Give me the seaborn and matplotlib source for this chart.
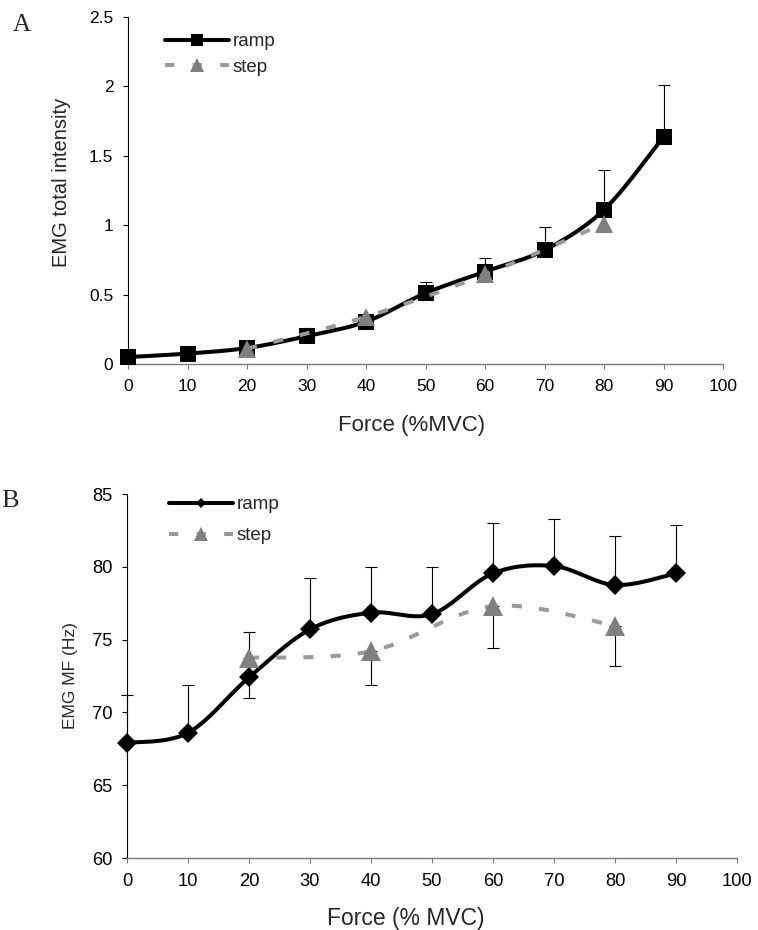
import numpy as np
import pandas as pd
import matplotlib
matplotlib.use("Agg")
import matplotlib.pyplot as plt
import seaborn as sns
from matplotlib.lines import Line2D

# ---------------- data ----------------
force = [0, 10, 20, 30, 40, 50, 60, 70, 80, 90]
step_force = [20, 40, 60, 80]

a_ramp = [0.05, 0.075, 0.115, 0.20, 0.305, 0.51, 0.665, 0.82, 1.11, 1.635]
a_ramp_err = [0.02, 0.02, 0.03, 0.06, 0.05, 0.08, 0.10, 0.165, 0.29, 0.375]
a_step = [0.11, 0.34, 0.645, 1.01]

b_ramp = [67.9, 68.6, 72.4, 75.7, 76.85, 76.75, 79.55, 80.05, 78.75, 79.55]
b_ramp_err = [3.3, 3.3, 3.15, 3.5, 3.15, 3.25, 3.45, 3.25, 3.35, 3.35]
b_step = [73.75, 74.2, 77.3, 75.95]
b_step_err = [2.75, 2.3, 2.85, 2.75]

x_ticks = [0, 10, 20, 30, 40, 50, 60, 70, 80, 90, 100]
a_yticks = [0, 0.5, 1, 1.5, 2, 2.5]
a_yticklabels = ["0", "0.5", "1", "1.5", "2", "2.5"]
b_yticks = [60, 65, 70, 75, 80, 85]

# ---------------- style ----------------
sns.set_theme(style="ticks")
plt.rcParams["font.family"] = ["Liberation Sans", "DejaVu Sans"]

DPI = 100
W, H = 758, 930
fig = plt.figure(figsize=(W / DPI, H / DPI), dpi=DPI)


def ax_rect(left, right, top, bottom):
    return [left / W, 1 - bottom / H, (right - left) / W, (bottom - top) / H]


axA = fig.add_axes(ax_rect(128, 723, 16.7, 364))
axB = fig.add_axes(ax_rect(127, 737, 494, 858))

GRAY_LINE = "#9a9a9a"
GRAY_MARK = "#808080"
LW = 2.9
DASH = (0, (2.5, 4.25))


def smooth(x, y, n=40):
    """Excel-like smoothed path through the data points (cubic Bezier)."""
    pts = np.column_stack([x, y]).astype(float)
    P = np.vstack([pts[0], pts, pts[-1]])
    t = np.linspace(0, 1, n)[:, None]
    out = []
    for i in range(1, len(P) - 2):
        p0, p1, p2, p3 = P[i - 1], P[i], P[i + 1], P[i + 2]
        c1 = p1 + (p2 - p0) / 6
        c2 = p2 - (p3 - p1) / 6
        seg = ((1 - t) ** 3) * p1 + 3 * (1 - t) ** 2 * t * c1 + 3 * (1 - t) * t ** 2 * c2 + t ** 3 * p2
        out.append(seg if i == 1 else seg[1:])
    return np.vstack(out)


def draw_series(ax, x, y, color, ls, marker, ms, err_up=None, err_dn=None, z=2):
    if err_up is not None or err_dn is not None:
        up = err_up if err_up is not None else [0] * len(x)
        dn = err_dn if err_dn is not None else [0] * len(x)
        eb = ax.errorbar(x, y, yerr=[dn, up], fmt="none", ecolor="black",
                         elinewidth=0.8, capsize=4.3, capthick=0.8, zorder=z)
        for c in list(eb.lines[1]) + list(eb.lines[2]):
            c.set_clip_on(False)
    curve = smooth(x, y)
    df = pd.DataFrame({"x": curve[:, 0], "y": curve[:, 1]})
    sns.lineplot(data=df, x="x", y="y", estimator=None, sort=False, ax=ax,
                 color=color, lw=LW, linestyle=ls, zorder=z + 1)
    ax.plot(x, y, ls="none", marker=marker, ms=ms, color=color,
            mec=color, mew=0, clip_on=False, zorder=z + 2)


# ---------------- panel A ----------------
draw_series(axA, force, a_ramp, "black", "-", "s", 11.5, err_up=a_ramp_err, z=2)
draw_series(axA, step_force, a_step, GRAY_LINE, DASH, "^", 13, z=6)
axA.lines[-1].set_color(GRAY_MARK)

axA.set_xlim(0, 100)
axA.set_ylim(0, 2.5)
axA.set_xticks(x_ticks)
axA.set_yticks(a_yticks)
axA.set_yticklabels(a_yticklabels)
axA.set_xlabel("Force (%MVC)", fontsize=16)
axA.set_ylabel("EMG total intensity", fontsize=14.5)
axA.xaxis.set_label_coords(0.476, -0.147)
axA.yaxis.set_label_coords(-0.095, 0.523)

# ---------------- panel B ----------------
draw_series(axB, force, b_ramp, "black", "-", "D", 9.7, err_up=b_ramp_err, z=2)
draw_series(axB, step_force, b_step, GRAY_LINE, DASH, "^", 13.7, err_dn=b_step_err, z=6)
axB.lines[-1].set_color(GRAY_MARK)

axB.set_xlim(0, 100)
axB.set_ylim(60, 85)
axB.set_xticks(x_ticks)
axB.set_yticks(b_yticks)
axB.set_xlabel("Force (% MVC)", fontsize=16.5)
axB.set_ylabel("EMG MF (Hz)", fontsize=12.5)
axB.xaxis.set_label_coords(0.457, -0.135)
axB.yaxis.set_label_coords(-0.080, 0.5)

for ax, fs in ((axA, 12.5), (axB, 13.2)):
    ax.grid(False)
    ax.set_facecolor("white")
    sns.despine(ax=ax)
    ax.spines["left"].set_color("black")
    ax.spines["left"].set_linewidth(0.8)
    ax.spines["bottom"].set_color("#7a7a7a")
    ax.spines["bottom"].set_linewidth(1.0)
    ax.tick_params(axis="both", direction="out", length=3.6, width=0.8,
                   labelsize=fs, pad=7, colors="black")
    ax.tick_params(axis="x", color="#7a7a7a")

# ---------------- legends ----------------
def make_legend(ax, ramp_marker, ramp_ms, anchor, spacing):
    h_ramp = Line2D([], [], color="black", lw=LW, marker=ramp_marker,
                    ms=ramp_ms, mew=0)
    h_step = Line2D([], [], color=GRAY_LINE, lw=LW, linestyle=(0, (2.3, 4.55)),
                    marker="^", ms=9.4, mfc=GRAY_MARK, mec=GRAY_MARK, mew=0)
    ax.legend([h_ramp, h_step], ["ramp", "step"], loc="upper left",
              bbox_to_anchor=anchor, frameon=False, fontsize=13.5,
              handlelength=3.41, handletextpad=0.21, borderpad=0,
              borderaxespad=0, labelspacing=spacing)


make_legend(axA, "s", 8, (0.062, 0.953), 0.45)
make_legend(axB, "D", 5.1, (0.069, 0.9945), 0.75)

# ---------------- panel letters ----------------
fig.text(13 / W, 1 - 31 / H, "A", family="Liberation Serif", fontsize=18,
         ha="left", va="baseline")
fig.text(1 / W, 1 - 507 / H, "B", family="Liberation Serif", fontsize=19,
         ha="left", va="baseline")

fig.savefig("out.png", dpi=DPI)
